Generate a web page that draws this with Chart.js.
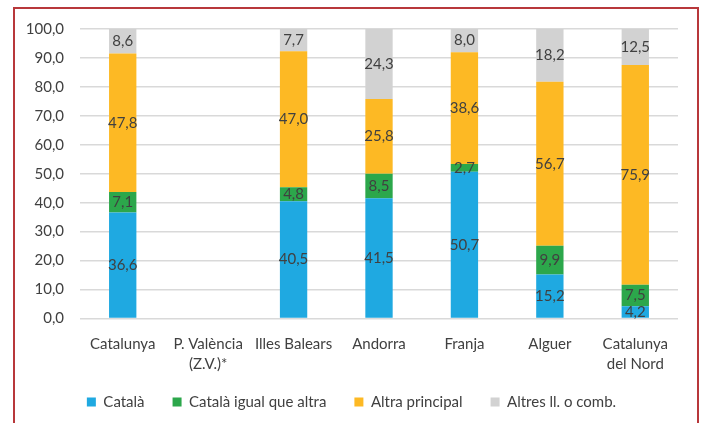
<!DOCTYPE html>
<html>
<head>
<meta charset="utf-8">
<script src="https://cdn.jsdelivr.net/npm/chart.js@4"></script>
<style>
  html, body { margin: 0; padding: 0; background: #fff; overflow: hidden; }
  #frame { position: absolute; left: 13px; top: 7px; width: 682px; height: 440px; border: 2px solid #B8383B; }
  #wrap { position: absolute; left: 0; top: 0; width: 702px; height: 423px; }
</style>
</head>
<body>
<div id="frame"></div>
<div id="wrap"><canvas id="grafic"></canvas></div>
<script>
// territoris
const territoris = [
    'Catalunya',
    ['P. València', '(Z.V.)*'],
    'Illes Balears',
    'Andorra',
    'Franja',
    'Alguer',
    ['Catalunya', 'del Nord']
];
// percentatges per llengua (P. València sense dades)
const catala      = [36.6, null, 40.5, 41.5, 50.7, 15.2, 4.2];
const igualAltra  = [7.1,  null, 4.8,  8.5,  2.7,  9.9,  7.5];
const altraPrinc  = [47.8, null, 47.0, 25.8, 38.6, 56.7, 75.9];
const altresComb  = [8.6,  null, 7.7,  24.3, 8.0,  18.2, 12.5];
const ticksY = [0, 10, 20, 30, 40, 50, 60, 70, 80, 90, 100];

const coma = v => v.toFixed(1).replace('.', ',');
const lletra = { family: 'Lato', size: 15 };

// etiquetes al mig de cada tros de barra
const etiquetes = {
    id: 'etiquetes',
    afterDatasetsDraw(chart) {
        const ctx = chart.ctx;
        ctx.save();
        ctx.font = '15px Lato';
        ctx.fillStyle = '#404040';
        ctx.textAlign = 'center';
        ctx.textBaseline = 'middle';
        chart.data.datasets.forEach((ds, i) => {
            chart.getDatasetMeta(i).data.forEach((el, j) => {
                const v = ds.data[j];
                if (v == null) return;
                ctx.fillText(coma(v), el.x, (el.y + el.base) / 2);
            });
        });
        ctx.restore();
    }
};

// llegenda mes compacta: menys alcada i una mica amunt
const llegenda = {
    id: 'llegenda',
    afterInit(chart) {
        const lg = chart.legend;
        const fit = lg.fit.bind(lg);
        lg.fit = function () { fit(); this.height -= 12; };
    },
    afterLayout(chart) {
        chart.legend.top -= 8;
        chart.legend.bottom = chart.height;
    }
};

var c1 = document.getElementById('grafic').getContext('2d');
const grafic = new Chart(c1, {
    type: 'bar',
    data: {
        labels: territoris,
        datasets: [
            { label: 'Català', data: catala, backgroundColor: '#1FA9E1' },
            { label: 'Català igual que altra', data: igualAltra, backgroundColor: '#2CA74B' },
            { label: 'Altra principal', data: altraPrinc, backgroundColor: '#FDB924' },
            { label: 'Altres ll. o comb.', data: altresComb, backgroundColor: '#D2D2D2' }
        ]
    },
    options: {
        responsive: true,
        maintainAspectRatio: false,
        animation: false,
        devicePixelRatio: 1,
        layout: { padding: { left: 25, right: 24, top: 29, bottom: 7.5 } },
        datasets: { bar: { barPercentage: 0.32, categoryPercentage: 1 } },
        plugins: {
            tooltip: { enabled: false },
            legend: {
                position: 'bottom',
                labels: {
                    boxWidth: 9, boxHeight: 9, padding: 28,
                    color: '#404040',
                    font: lletra
                }
            }
        },
        scales: {
            x: {
                stacked: true,
                afterFit: s => { s.height = 56; },
                grid: { display: false },
                border: { display: false },
                ticks: { color: '#404040', font: { family: 'Lato', size: 15, lineHeight: 1.33 }, padding: 8, maxRotation: 0, autoSkip: false }
            },
            y: {
                stacked: true,
                min: 0, max: 100,
                afterBuildTicks: s => { s.ticks = ticksY.map(v => ({ value: v })); },
                afterFit: s => { s.width = 55; },
                grid: { color: '#D9D9D9', lineWidth: 1.5, drawTicks: false },
                border: { display: false },
                ticks: { color: '#404040', font: lletra, padding: 16, callback: v => coma(v) }
            }
        }
    },
    plugins: [etiquetes, llegenda]
});
</script>
</body>
</html>
